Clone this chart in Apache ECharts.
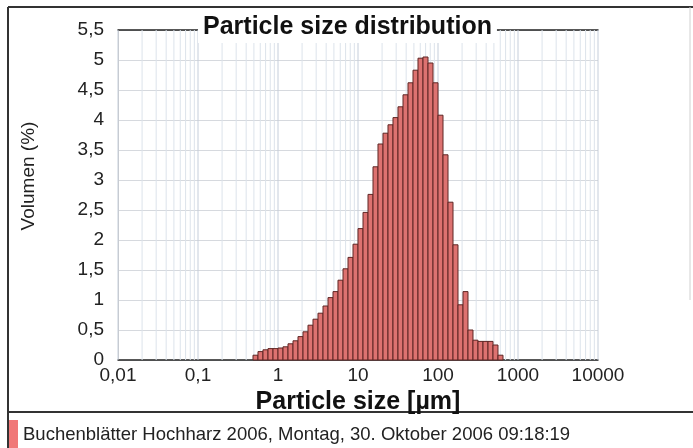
<!DOCTYPE html>
<html>
<head>
<meta charset="utf-8">
<script src="https://cdn.jsdelivr.net/npm/echarts@6/dist/echarts.min.js"></script>
<style>
  html, body { margin: 0; padding: 0; background: #fff; }
  #psd { width: 693px; height: 448px; }
</style>
</head>
<body>
<div id="psd"></div>
<script>
// bin edges (µm), 16 bins per decade
var sizeEdges = [0.487, 0.562, 0.649, 0.750, 0.866, 1, 1.155, 1.334, 1.540, 1.778,
  2.054, 2.371, 2.738, 3.162, 3.652, 4.217, 4.870, 5.623, 6.494, 7.499,
  8.660, 10, 11.55, 13.34, 15.40, 17.78, 20.54, 23.71, 27.38, 31.62,
  36.52, 42.17, 48.70, 56.23, 64.94, 74.99, 86.60, 100, 115.5, 133.4,
  154.0, 177.8, 205.4, 237.1, 273.8, 316.2, 365.2, 421.7, 487.0, 562.3, 649.4];
// Volumen (%) per bin
var volumen = [0.08, 0.14, 0.17, 0.19, 0.19, 0.20, 0.22, 0.27, 0.32, 0.39,
  0.47, 0.58, 0.68, 0.78, 0.90, 1.04, 1.14, 1.33, 1.52, 1.71,
  1.93, 2.19, 2.46, 2.76, 3.22, 3.60, 3.78, 3.92, 4.04, 4.22,
  4.42, 4.62, 4.83, 5.03, 5.05, 4.95, 4.62, 4.08, 3.42, 2.63,
  1.92, 0.92, 1.14, 0.50, 0.33, 0.31, 0.31, 0.31, 0.25, 0.08];
var xTickLabels = { 0.01: '0,01', 0.1: '0,1', 1: '1', 10: '10', 100: '100', 1000: '1000', 10000: '10000' };
var seriesName = 'Buchenblätter Hochharz 2006, Montag, 30. Oktober 2006 09:18:19';

var barData = [];
for (var i = 0; i < volumen.length; i++) {
  barData.push([sizeEdges[i], sizeEdges[i + 1], volumen[i]]);
}
// log grid lines 1..9 x 10^k
var gridLines = [];
for (var k = -2; k < 4; k++) {
  for (var m = 1; m <= 9; m++) gridLines.push([m * Math.pow(10, k)]);
}
gridLines.push([10000]);

var font = 'Liberation Sans, Arial, sans-serif';
var chart = echarts.init(document.getElementById('psd'));
chart.setOption({
  animation: false,
  title: {
    text: 'Particle size distribution',
    left: 198,
    top: 12,
    backgroundColor: '#fff',
    padding: [3, 5, 3, 5],
    textStyle: { fontFamily: font, fontSize: 25, fontWeight: 'bold', color: '#111' }
  },
  legend: {
    data: [{ name: seriesName, itemStyle: { color: '#f07878', borderWidth: 0 } }],
    left: 4,
    top: 415,
    icon: 'rect',
    itemWidth: 9,
    itemHeight: 30,
    textStyle: { fontFamily: font, fontSize: 18.5, color: '#222' }
  },
  grid: { left: 118, right: 95, top: 30, bottom: 88 },
  xAxis: [{
    type: 'log',
    logBase: 10,
    min: 0.01,
    max: 10000,
    name: 'Particle size [µm]',
    nameLocation: 'middle',
    nameGap: 26,
    nameTextStyle: { fontFamily: font, fontSize: 25, fontWeight: 'bold', color: '#111' },
    axisLine: { lineStyle: { color: '#222', width: 1.5 } },
    axisTick: { show: false },
    splitLine: { show: false },
    axisLabel: {
      margin: 6,
      fontFamily: font,
      fontSize: 19,
      color: '#222',
      formatter: function (v) { return xTickLabels[v] || ''; }
    }
  }, {
    type: 'log',
    logBase: 10,
    min: 0.01,
    max: 10000,
    position: 'top',
    axisLine: { lineStyle: { color: '#222', width: 1.5 } },
    axisTick: { show: false },
    axisLabel: { show: false },
    splitLine: { show: false }
  }],
  yAxis: {
    type: 'value',
    min: 0,
    max: 5.5,
    interval: 0.5,
    axisLine: { show: true, lineStyle: { color: '#c8c8c8' } },
    axisTick: { show: false },
    splitLine: { lineStyle: { color: '#d6d9de' } },
    axisLabel: {
      margin: 14,
      fontFamily: font,
      fontSize: 19,
      color: '#222',
      formatter: function (v) { return String(v).replace('.', ','); }
    }
  },
  graphic: [
    {
      type: 'text', x: 29, y: 176, rotation: Math.PI / 2,
      style: { text: 'Volumen (%)', fontFamily: font, fontSize: 19, fill: '#222', align: 'center', verticalAlign: 'middle' }
    },
    { type: 'line', shape: { x1: 8, y1: 7, x2: 693, y2: 7 }, style: { stroke: '#333', lineWidth: 2 } },
    { type: 'line', shape: { x1: 8, y1: 7, x2: 8, y2: 448 }, style: { stroke: '#333', lineWidth: 2 } },
    { type: 'line', shape: { x1: 690, y1: 7, x2: 690, y2: 300 }, style: { stroke: '#d0d0d0', lineWidth: 1 } },
    { type: 'line', shape: { x1: 8, y1: 412, x2: 693, y2: 412 }, style: { stroke: '#333', lineWidth: 2 } }
  ],
  series: [{
    type: 'custom',
    name: 'grid',
    silent: true,
    z: 1,
    data: gridLines,
    encode: { x: 0 },
    renderItem: function (params, api) {
      var top = api.coord([api.value(0), 5.5]);
      var bot = api.coord([api.value(0), 0]);
      return {
        type: 'line',
        shape: { x1: top[0], y1: top[1], x2: bot[0], y2: bot[1] },
        style: { stroke: String(api.value(0)).replace('0.', '').replace(/0/g, '') === '1' ? '#c5cedb' : '#dce3eb', lineWidth: 1 }
      };
    }
  }, {
    type: 'custom',
    name: seriesName,
    z: 3,
    data: barData,
    encode: { x: [0, 1], y: 2 },
    itemStyle: { color: '#dd7270' },
    renderItem: function (params, api) {
      var p0 = api.coord([api.value(0), api.value(2)]);
      var p1 = api.coord([api.value(1), 0]);
      return {
        type: 'rect',
        shape: { x: p0[0], y: p0[1], width: p1[0] - p0[0], height: p1[1] - p0[1] },
        style: { fill: '#dd7270', stroke: '#5e2624', lineWidth: 1 }
      };
    }
  }]
});
</script>
</body>
</html>
